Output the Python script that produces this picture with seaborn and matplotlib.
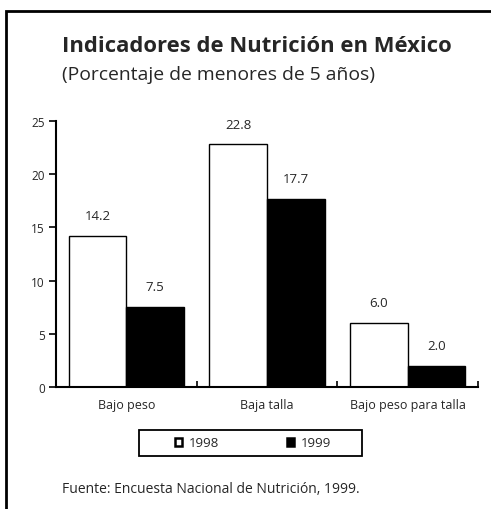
import matplotlib
matplotlib.use("Agg")
import matplotlib.pyplot as plt
import pandas as pd
import seaborn as sns
from matplotlib.patches import Rectangle

# data
categorias = ["Bajo peso", "Baja talla", "Bajo peso para talla"]
valores_1998 = [14.2, 22.8, 6.0]
valores_1999 = [7.5, 17.7, 2.0]
anios = ["1998", "1999"]

df = pd.DataFrame({
    "categoria": categorias * 2,
    "anio": [anios[0]] * 3 + [anios[1]] * 3,
    "valor": valores_1998 + valores_1999,
})

sns.set_style("white")
plt.rcParams["font.family"] = ["Open Sans", "DejaVu Sans"]

fig = plt.figure(figsize=(4.91, 5.10), dpi=100)
ax = fig.add_axes([56 / 491, 1 - 388 / 510, (478 - 56) / 491, (388 - 122) / 510])

sns.barplot(data=df, x="categoria", y="valor", hue="anio", order=categorias,
            hue_order=anios, palette={"1998": "white", "1999": "black"},
            width=0.82, edgecolor="black", linewidth=1, ax=ax, legend=False)

ax.set_xlim(-0.5, 2.5)
ax.set_ylim(0, 25)
ax.set_yticks([0, 5, 10, 15, 20, 25])
ax.set_xlabel("")
ax.set_ylabel("")
for s in ["top", "right"]:
    ax.spines[s].set_visible(False)
for s in ["left", "bottom"]:
    ax.spines[s].set_linewidth(1.5)
    ax.spines[s].set_color("black")

ax.set_xticks([0.5, 1.5, 2.5])
ax.set_xticklabels([])
ax.set_xticks([0, 1, 2], minor=True)
ax.set_xticklabels(categorias, minor=True, fontsize=9)
ax.tick_params(axis="x", which="major", bottom=True, direction="in", length=4, width=1.2, color="black")
ax.tick_params(axis="x", which="minor", bottom=True, length=0, pad=8)
ax.tick_params(axis="y", left=True, direction="out", length=5, width=1.2, color="black",
               labelsize=8.5, pad=3)

# value labels
for cont in ax.containers:
    for bar in cont:
        h = bar.get_height()
        ax.annotate(f"{h:.1f}", (bar.get_x() + bar.get_width() / 2, h),
                    xytext=(0, 10), textcoords="offset points",
                    ha="center", va="bottom", fontsize=9.5)

# legend
handles = [Rectangle((0, 0), 1, 1, facecolor="white", edgecolor="black", linewidth=1.8),
           Rectangle((0, 0), 1, 1, facecolor="black", edgecolor="black", linewidth=1.8)]
leg = fig.legend(handles, anios, loc="center", bbox_to_anchor=(253 / 491, 1 - 444 / 510),
                 ncol=2, frameon=False, fontsize=9.5,
                 handlelength=0.6, handleheight=0.6, handletextpad=0.5,
                 columnspacing=5.1, borderpad=0.2)
fig.patches.append(Rectangle((139 / 491, 1 - 457 / 510), 223 / 491, 26 / 510,
                             transform=fig.transFigure, fill=False,
                             edgecolor="black", linewidth=1.3))

# titles and source
fig.text(62 / 491, 1 - 47 / 510, "Indicadores de Nutrición en México",
         fontsize=15.8, fontweight="bold", va="center")
fig.text(62 / 491, 1 - 75 / 510, "(Porcentaje de menores de 5 años)",
         fontsize=13.9, va="center")
fig.text(62 / 491, 1 - 490 / 510, "Fuente: Encuesta Nacional de Nutrición, 1999.",
         fontsize=10, va="center")

# outer frame
fig.patches.append(Rectangle((6 / 491, -0.1), 1.2, 1.1 - 11.5 / 510,
                             transform=fig.transFigure, fill=False,
                             edgecolor="black", linewidth=2))

fig.savefig("out.png", dpi=100)
